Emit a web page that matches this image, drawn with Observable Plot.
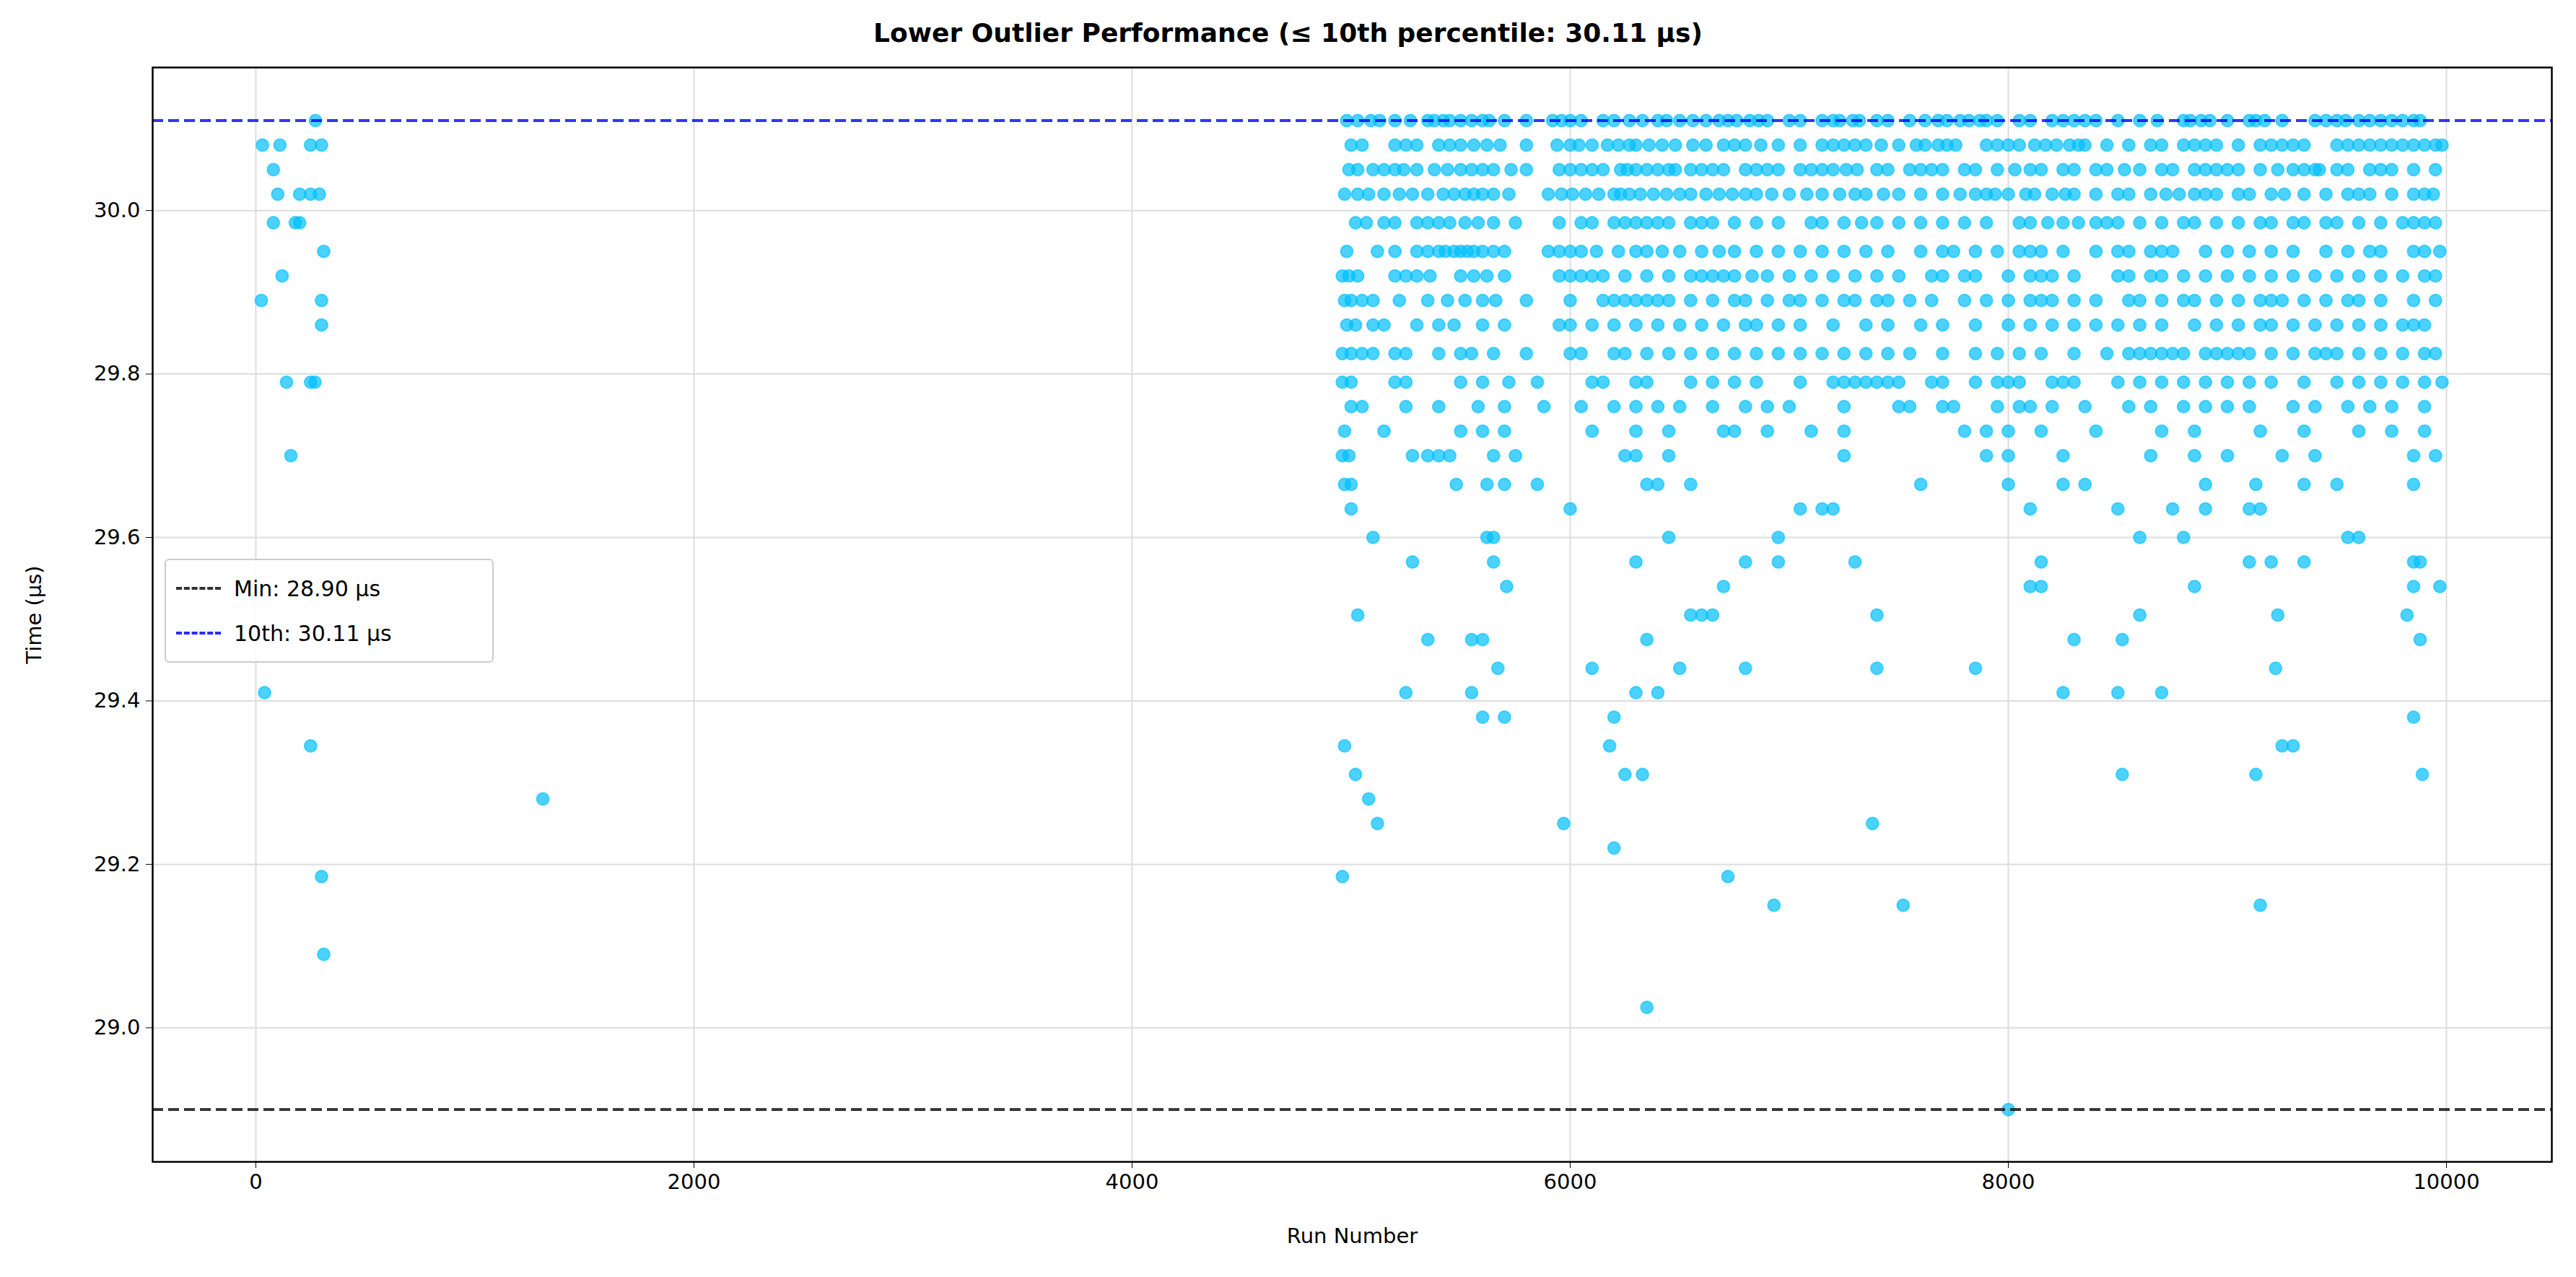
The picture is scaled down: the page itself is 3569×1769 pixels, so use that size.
<!DOCTYPE html>
<html>
<head>
<meta charset="utf-8">
<script src="https://cdn.jsdelivr.net/npm/d3@7"></script>
<script src="https://cdn.jsdelivr.net/npm/@observablehq/plot@0.6"></script>
<style>
body { margin: 0; background: #fff; font-family: "DejaVu Sans", sans-serif; }
#title { height: 80px; line-height: 92px; text-align: center; font-weight: bold; font-size: 36px; }
#wrap { position: relative; }
#legend { position: absolute; left: 228px; top: 694px; width: 424px; border: 2px solid #ccc; border-radius: 6px;
  background: rgba(255,255,255,0.85); padding: 8px 14px; font-size: 30px; }
.row { display: flex; align-items: center; height: 62px; }
.sw { width: 62px; margin-right: 18px; border-top: 4px dashed; }
</style>
</head>
<body>
<div id="title">Lower Outlier Performance (≤ 10th percentile: 30.11 µs)</div>
<div id="wrap">
<div id="chart"></div>
<div id="legend">
  <div class="row"><span class="sw" style="border-color:#333"></span>Min: 28.90 µs</div>
  <div class="row"><span class="sw" style="border-color:#2b2bff"></span>10th: 30.11 µs</div>
</div>
</div>
<script>
const minTime = 28.90;
const p10Time = 30.11;

// quantized timing levels (µs) and the run numbers that landed on each
const levels = [30.11, 30.08, 30.05, 30.02, 29.985, 29.95, 29.92, 29.89, 29.86, 29.825, 29.79, 29.76,
  29.73, 29.70, 29.665, 29.635, 29.60, 29.57, 29.54, 29.505, 29.475, 29.44, 29.41, 29.38, 29.345,
  29.31, 29.28, 29.25, 29.22, 29.185, 29.15, 29.09, 29.025, 28.90];

const runsAt = [
  [272, 4980,5030,5090,5130,5200,5270,5350,5380,5420,5450,5500,5550,5600,5630,5700,5800,5920,5960,6000,6050,6150,6200,6270,6330,6400,6440,6500,6560,6620,6680,6720,6760,6820,6860,6900,7000,7050,7150,7200,7230,7290,7320,7400,7450,7550,7620,7680,7720,7780,7820,7870,7900,7950,8050,8100,8200,8250,8300,8350,8400,8500,8600,8680,8800,8830,8880,8920,9000,9100,9130,9170,9250,9400,9450,9500,9540,9600,9650,9700,9750,9800,9850,9880],
  [30,110,250,300, 5000,5050,5200,5250,5300,5400,5450,5500,5560,5620,5680,5800,5940,6000,6040,6100,6170,6220,6270,6300,6360,6420,6480,6560,6620,6700,6750,6800,6870,6950,7050,7150,7200,7250,7300,7350,7420,7500,7580,7620,7680,7720,7760,7900,7950,8000,8050,8120,8170,8220,8280,8320,8350,8450,8550,8650,8700,8800,8850,8900,8950,9050,9150,9200,9250,9300,9350,9500,9550,9600,9650,9700,9750,9800,9850,9900,9950,9980],
  [80, 4990,5030,5100,5150,5200,5240,5300,5380,5440,5500,5550,5600,5650,5730,5800,5950,6000,6050,6100,6150,6230,6260,6300,6350,6400,6450,6480,6550,6600,6650,6700,6800,6850,6900,6950,7050,7100,7150,7200,7260,7310,7400,7450,7550,7600,7650,7700,7800,7850,7950,8030,8100,8150,8250,8300,8400,8450,8530,8600,8700,8750,8850,8900,8950,9000,9050,9150,9230,9300,9350,9400,9420,9500,9550,9650,9700,9750,9850,9950],
  [100,200,250,290, 4970,5030,5080,5150,5220,5280,5350,5420,5470,5520,5560,5600,5650,5720,5900,5960,6010,6070,6130,6200,6230,6270,6320,6380,6440,6500,6550,6620,6680,6740,6800,6850,6920,7000,7080,7150,7230,7300,7350,7430,7500,7600,7700,7780,7850,7900,7940,8000,8080,8120,8200,8260,8300,8400,8500,8550,8650,8720,8780,8850,8900,8950,9050,9100,9200,9260,9350,9450,9550,9600,9650,9750,9850,9900,9940],
  [80,180,200, 5020,5070,5150,5200,5300,5350,5400,5450,5520,5580,5650,5750,5950,6050,6100,6200,6250,6300,6350,6400,6450,6550,6600,6650,6750,6850,6950,7100,7150,7250,7330,7400,7500,7600,7700,7800,7900,8050,8100,8180,8250,8320,8400,8450,8500,8600,8700,8800,8850,8950,9050,9150,9200,9300,9350,9450,9500,9600,9700,9800,9850,9900,9950],
  [310, 4980,5120,5200,5300,5350,5400,5430,5470,5500,5530,5560,5600,5650,5700,5900,5950,6000,6050,6120,6220,6300,6350,6420,6500,6600,6680,6750,6850,6950,7050,7150,7250,7350,7450,7600,7700,7750,7850,7950,8050,8100,8150,8250,8400,8500,8550,8650,8700,8750,8900,9000,9100,9200,9300,9450,9550,9650,9700,9850,9900,9970],
  [120, 4960,4990,5030,5200,5250,5300,5360,5500,5560,5620,5700,5950,6000,6050,6100,6150,6250,6350,6450,6550,6600,6650,6700,6750,6830,6900,7000,7100,7200,7300,7400,7500,7650,7700,7800,7850,8000,8100,8150,8200,8300,8500,8550,8650,8700,8800,8900,9000,9100,9200,9300,9400,9500,9600,9700,9800,9900,9950],
  [25,300, 4970,5000,5050,5100,5220,5350,5440,5520,5600,5660,5800,6000,6150,6200,6250,6300,6350,6400,6450,6550,6650,6750,6800,6900,7000,7050,7150,7250,7300,7400,7450,7550,7650,7800,7900,8000,8100,8150,8200,8300,8400,8550,8600,8700,8800,8850,8950,9050,9150,9200,9250,9350,9450,9550,9600,9700,9850,9950],
  [300, 4980,5020,5100,5150,5300,5400,5470,5600,5700,5950,6000,6100,6200,6300,6400,6500,6600,6700,6800,6850,6950,7050,7200,7350,7450,7600,7700,7850,8000,8100,8200,8300,8400,8500,8600,8700,8850,8950,9050,9150,9200,9300,9400,9500,9600,9700,9800,9850,9900],
  [4960,5000,5050,5100,5200,5250,5400,5500,5550,5650,5800,6000,6050,6200,6250,6350,6450,6550,6650,6750,6850,6950,7050,7150,7250,7350,7450,7550,7700,7850,7950,8050,8150,8300,8450,8550,8600,8650,8700,8750,8800,8900,8950,9000,9050,9100,9200,9300,9400,9450,9500,9600,9700,9800,9900,9950],
  [140,250,270, 4960,5000,5200,5250,5500,5600,5720,5850,6100,6150,6300,6350,6550,6650,6750,6850,7050,7200,7250,7300,7350,7400,7450,7500,7650,7700,7850,7950,8000,8050,8200,8250,8300,8500,8600,8700,8800,8900,9000,9100,9200,9350,9500,9600,9700,9800,9900,9980],
  [5000,5050,5250,5400,5580,5700,5880,6050,6200,6300,6400,6500,6650,6800,6900,7000,7250,7500,7550,7700,7750,7950,8050,8100,8200,8350,8550,8650,8800,8900,9000,9100,9300,9400,9550,9650,9750,9900],
  [4970,5150,5500,5600,5700,6100,6300,6450,6700,6750,6900,7100,7250,7800,7900,8000,8150,8400,8700,8850,9150,9350,9600,9750,9900],
  [160, 4960,4990,5280,5350,5400,5450,5650,5750,6250,6300,6450,7250,7900,8000,8250,8650,8850,9000,9250,9400,9850,9950],
  [4970,5000,5480,5620,5700,5850,6350,6400,6550,7600,8000,8250,8350,8900,9130,9350,9500,9850],
  [5000,6000,7050,7150,7200,8100,8500,8750,8900,9100,9150],
  [5100,5620,5650,6450,6950,8600,8800,9550,9600],
  [5280,5650,6300,6800,6950,7300,8150,9100,9200,9350,9850,9880],
  [5710,6700,8100,8150,8850,9850,9970],
  [5030,6550,6600,6650,7400,8600,9230,9820],
  [5350,5550,5600,6350,8300,8520,9880],
  [5670,6100,6500,6800,7400,7850,9220],
  [40, 5250,5550,6300,6400,8250,8500,8700],
  [5600,5700,6200,9850],
  [250, 4970,6180,9250,9300],
  [5020,6250,6330,8520,9130,9890],
  [1310, 5080],
  [5120,5970,7380],
  [6200],
  [300, 4960,6720],
  [6930,7520,9150],
  [310],
  [6350],
  [8000]
];

const points = levels.flatMap((t, i) => runsAt[i].map(run => ({run, time: t})));

const chart = Plot.plot({
  width: 3569,
  height: 1689,
  marginTop: 13,
  marginBottom: 160,
  marginLeft: 211,
  marginRight: 34,
  style: {fontFamily: "DejaVu Sans, sans-serif", fontSize: "29px", color: "#000"},
  x: {domain: [-471, 10481], ticks: [0, 2000, 4000, 6000, 8000, 10000], tickFormat: d3.format("d"), tickSize: 9, tickPadding: 8,
      label: "Run Number", labelAnchor: "center", labelArrow: "none", labelOffset: 112, grid: true},
  y: {domain: [28.836, 30.175], ticks: [29.0, 29.2, 29.4, 29.6, 29.8, 30.0], tickFormat: d => d.toFixed(1),
      tickSize: 9, tickPadding: 8, label: "Time (µs)", labelAnchor: "center", labelArrow: "none", labelOffset: 175, grid: true},
  marks: [
    Plot.gridX([0, 2000, 4000, 6000, 8000, 10000], {stroke: "#ddd", strokeOpacity: 1, strokeWidth: 2}),
    Plot.gridY([29.0, 29.2, 29.4, 29.6, 29.8, 30.0], {stroke: "#ddd", strokeOpacity: 1, strokeWidth: 2}),
    Plot.dot(points, {x: "run", y: "time", r: 8.5, fill: "#00bfff", fillOpacity: 0.7, stroke: "#00bfff", strokeOpacity: 0.6, strokeWidth: 2}),
    Plot.ruleY([minTime], {stroke: "#222", strokeOpacity: 0.9, strokeWidth: 4, strokeDasharray: "15,7"}),
    Plot.ruleY([p10Time], {stroke: "#0000ff", strokeOpacity: 0.8, strokeWidth: 4, strokeDasharray: "15,7"}),
    Plot.frame({stroke: "#000", strokeWidth: 2.5})
  ]
});
document.querySelector("#chart").append(chart);
</script>
</body>
</html>
